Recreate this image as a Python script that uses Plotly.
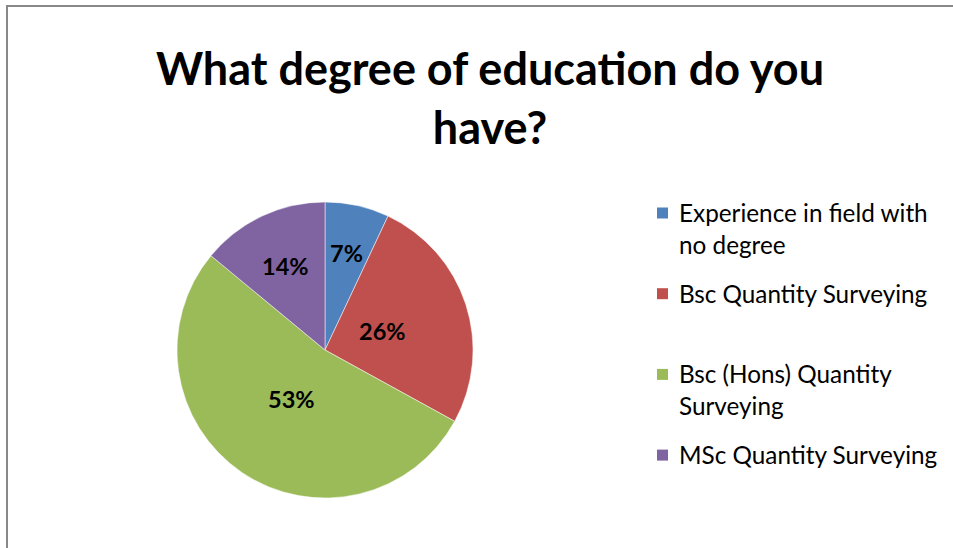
import math
import plotly.graph_objects as go

# Survey answers: share of respondents per education level (%)
categories = [
    "Experience in field with<br>no degree",
    "Bsc Quantity Surveying",
    "Bsc (Hons) Quantity<br>Surveying",
    "MSc Quantity Surveying",
]
shares = [7, 26, 53, 14]
colors = ["#4F81BD", "#C0504D", "#9BBB59", "#8064A2"]
title_text = "What degree of education do you<br>have?"

W, H = 953, 548
cx, cy, r = 325, 350, 148          # pie centre and radius in pixels
label_radius = [0.67, 0.41, 0.40, 0.63]  # data-label distance from centre (fraction of radius)

fig = go.Figure(
    go.Pie(
        labels=[c.replace("<br>", " ") for c in categories],
        values=shares,
        sort=False,
        direction="clockwise",
        rotation=0,
        marker=dict(colors=colors, line=dict(color="white", width=0.5)),
        textinfo="none",
        hoverinfo="label+percent",
        showlegend=False,
        domain=dict(
            x=[(cx - r) / W, (cx + r) / W],
            y=[(H - cy - r) / H, (H - cy + r) / H],
        ),
    )
)

annotations = []
shapes = []

# percentage labels placed along each slice's mid-angle
total = sum(shares)
cum = 0
for v, frac in zip(shares, label_radius):
    mid = (cum + v / 2) / total * 2 * math.pi
    cum += v
    rr = frac * r
    px = cx + rr * math.sin(mid)
    py = cy - rr * math.cos(mid)
    annotations.append(dict(
        x=px / W, y=1 - py / H, xref="paper", yref="paper",
        text=f"{round(v / total * 100)}%", showarrow=False,
        xanchor="center", yanchor="middle",
        font=dict(family="Lato", size=23.5, color="black", weight="bold"),
    ))

# legend: colour square + wrapped entry text
leg_x_box, leg_x_text = 657, 677
leg_y0, leg_step, box = 213, 80.7, 11
for i, (name, col) in enumerate(zip(categories, colors)):
    yc = leg_y0 + i * leg_step
    shapes.append(dict(
        type="rect", xref="paper", yref="paper",
        x0=leg_x_box / W, x1=(leg_x_box + box) / W,
        y0=1 - (yc + box / 2) / H, y1=1 - (yc - box / 2) / H,
        fillcolor=col, line=dict(width=0),
    ))
    annotations.append(dict(
        x=leg_x_text / W, y=1 - (yc - 17) / H, xref="paper", yref="paper",
        text=name, showarrow=False, align="left",
        xanchor="left", yanchor="top",
        font=dict(family="Lato", size=24.3, color="black"),
    ))

# outer chart border
shapes.append(dict(
    type="rect", xref="paper", yref="paper",
    x0=7 / W, x1=1.02, y0=-0.02, y1=1 - 6 / H,
    line=dict(color="#888888", width=2),
    fillcolor="rgba(0,0,0,0)", layer="below",
))

fig.update_layout(
    width=W,
    height=H,
    margin=dict(l=0, r=0, t=0, b=0),
    paper_bgcolor="white",
    plot_bgcolor="white",
    font=dict(family="Lato", color="black"),
    title=dict(
        text=title_text,
        font=dict(family="Lato", size=45, color="black", weight="bold"),
        x=490 / W,
        xanchor="center",
        y=1 - 85 / H,
        yanchor="top",
    ),
    showlegend=False,
    annotations=annotations,
    shapes=shapes,
)

fig.write_html("out.html")
